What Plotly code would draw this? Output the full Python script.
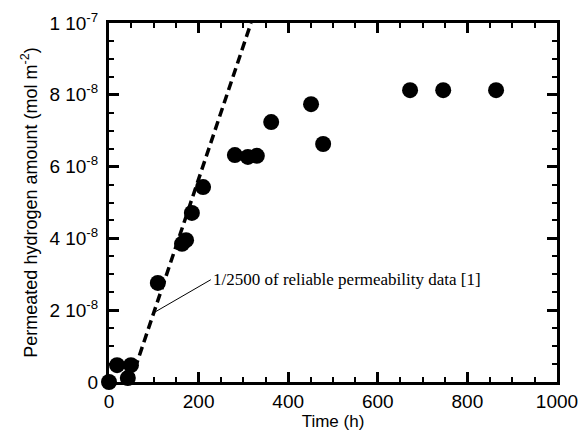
import plotly.graph_objects as go

# measured permeated hydrogen vs time
time_h = [0, 18, 42, 49, 109, 163, 172, 185, 210, 281, 310, 330, 362, 451, 478, 672, 746, 864]
amount = [0, 0.47e-8, 0.11e-8, 0.47e-8, 2.76e-8, 3.85e-8, 3.95e-8, 4.71e-8, 5.43e-8,
          6.32e-8, 6.27e-8, 6.30e-8, 7.24e-8, 7.74e-8, 6.63e-8, 8.13e-8, 8.13e-8, 8.13e-8]

# 1/2500 of reliable permeability data
ref_x = [48, 317]
ref_y = [0, 1e-7]

y_ticks = [0, 2e-8, 4e-8, 6e-8, 8e-8, 1e-7]
y_labels = ["0", "2 10<sup>-8</sup>", "4 10<sup>-8</sup>", "6 10<sup>-8</sup>",
            "8 10<sup>-8</sup>", "1 10<sup>-7</sup>"]
x_ticks = [0, 200, 400, 600, 800, 1000]

fig = go.Figure()
fig.add_trace(go.Scatter(x=ref_x, y=ref_y, mode="lines",
                         line=dict(color="black", width=3.5, dash="9px,5px"),
                         showlegend=False))
fig.add_trace(go.Scatter(x=time_h, y=amount, mode="markers",
                         marker=dict(color="black", size=16),
                         cliponaxis=False, showlegend=False))

fig.add_annotation(x=100, y=1.93e-8, ax=57, ay=-33, xanchor="left",
                   text="1/2500 of reliable permeability data [1]",
                   showarrow=True, arrowhead=0, arrowwidth=1, arrowcolor="black",
                   font=dict(family="Liberation Serif", size=17, color="black"))

axis_common = dict(showline=True, linecolor="black", linewidth=3, mirror="allticks",
                   ticks="inside", ticklen=10, tickwidth=3, tickcolor="black",
                   showgrid=False, zeroline=False, automargin=False,
                   tickfont=dict(family="Liberation Sans", size=19, color="black"))

fig.update_xaxes(range=[0, 1000], tickvals=x_ticks, title_text="Time (h)",
                 minor=dict(dtick=50, ticks="inside", ticklen=5, tickwidth=2, tickcolor="black"),
                 title_font=dict(family="Liberation Sans", size=17, color="black"),
                 title_standoff=4, **axis_common)
fig.update_yaxes(range=[0, 1e-7], tickvals=y_ticks, ticktext=y_labels,
                 title_text="Permeated hydrogen amount (mol m<sup>-2</sup>)",
                 minor=dict(dtick=0.5e-8, ticks="inside", ticklen=5, tickwidth=2, tickcolor="black"),
                 title_font=dict(family="Liberation Sans", size=18, color="black"),
                 ticklabelstandoff=4, title_standoff=8, **axis_common)

# page body adds 8px offset, so the figure is a bit smaller than the window
fig.update_layout(width=578, height=430, margin=dict(l=101, r=29, t=15, b=56),
                  plot_bgcolor="white", paper_bgcolor="white")
fig.write_html("out.html")
